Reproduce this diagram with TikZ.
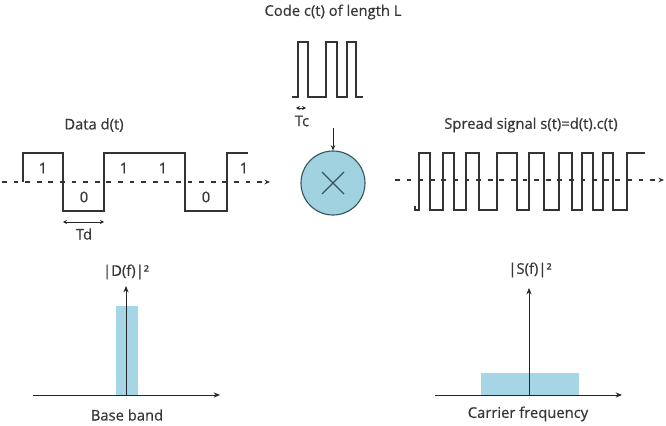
\documentclass[tikz,border=0pt]{standalone}
\usepackage{fontspec}
\setmainfont{Open Sans}
\newfontfamily\lblfont{Open Sans}[FakeBold=0.6]
\usepackage{xcolor}
\usetikzlibrary{arrows.meta,positioning,calc}

\definecolor{specblue}{RGB}{166,214,229}
\definecolor{mixblue}{RGB}{160,210,224}
\definecolor{mixedge}{RGB}{55,85,95}
\definecolor{txtgray}{RGB}{55,55,55}

\begin{document}
\begin{tikzpicture}[
  x=0.025cm, y=-0.025cm,
  font=\lblfont\fontsize{10.5}{12}\selectfont,
  lbl/.style={text=txtgray, inner sep=1pt},
  wave/.style={draw=black!80, line width=1pt, line join=miter},
  timeaxis/.style={draw=black!80, line width=0.8pt, dash pattern=on 1.2mm off 1.7mm, -{Stealth[length=1.4mm, width=1.2mm]}},
  axis/.style={draw=black!85, line width=0.7pt, -{Stealth[length=1.6mm, width=1.3mm]}},
  span/.style={draw=black!85, line width=0.7pt, {Stealth[length=1mm, width=1mm]}-{Stealth[length=1mm, width=1mm]}},
  arrow/.style={draw=black!85, line width=0.7pt, -{Stealth[length=1.3mm, width=1.1mm]}},
  band/.style={fill=specblue, draw=none},
  mixer/.style={circle, draw=mixedge, line width=0.8pt, fill=mixblue, minimum size=1.6cm, inner sep=0pt}
]
\useasboundingbox (0,0) rectangle (666,426);

% titles
\node[lbl] (CodeTitle) at (333,12) {Code c(t) of length L};
\node[lbl] (DataTitle) at (94,125) {Data d(t)};
\node[lbl] (SpreadTitle) at (531,125) {Spread signal s(t)=d(t).c(t)};

% data signal
\coordinate (DataStart) at (2,182);
\coordinate (DataEnd) at (270,182);
\draw[timeaxis] (DataStart) -- (DataEnd);
\draw[wave] (23,182) -- (23,153) -- (63,153) -- (63,211) -- (104,211) -- (104,153)
  -- (185,153) -- (185,211) -- (227,211) -- (227,153) -- (248,153);
\node[lbl] (BitA) at (43,168) {1};
\node[lbl] (BitB) at (84,197) {0};
\node[lbl] (BitC) at (124,168) {1};
\node[lbl] (BitD) at (163,168) {1};
\node[lbl] (BitE) at (206,197) {0};
\node[lbl] (BitF) at (244,168) {1};
\coordinate (TdL) at (63,222);
\coordinate (TdR) at (104,222);
\draw[span] (TdL) -- (TdR);
\node[lbl] (Td) at (84,234) {Td};

% code signal
\draw[wave] (292,97) -- (298,97) -- (298,42) -- (308,42) -- (308,97) -- (326,97) -- (326,42)
  -- (337,42) -- (337,97) -- (347,97) -- (347,42) -- (356,42) -- (356,97) -- (363,97);
\coordinate (TcL) at (296,108);
\coordinate (TcR) at (306,108);
\draw[span] (TcL) -- (TcR);
\node[lbl] (Tc) at (302,121) {Tc};

% mixer
\node[mixer] (Mix) at (333,183) {};
\draw[mixedge, line width=0.8pt] ($(Mix)+(-11,-11)$) -- ($(Mix)+(11,11)$);
\draw[mixedge, line width=0.8pt] ($(Mix)+(-11,11)$) -- ($(Mix)+(11,-11)$);
\coordinate (CodeOut) at (333,128);
\draw[arrow] (CodeOut) -- (Mix);

% spread signal
\coordinate (SpreadStart) at (395,180);
\coordinate (SpreadEnd) at (664,180);
\draw[timeaxis] (SpreadStart) -- (SpreadEnd);
\draw[wave] (415,206) -- (415,210)
  \foreach \a/\b in {419/430,443/454,466/479,497/517,529/544,559/572,582/593,603/613} {
    -- (\a,210) -- (\a,153) -- (\b,153) -- (\b,210) }
  -- (627,210) -- (627,153) -- (645,153);

% base band spectrum
\fill[band] (116,306) rectangle (138,395);
\coordinate (DOrig) at (126,395);
\coordinate (DLeft) at (33,395);
\coordinate (DRight) at (220,395);
\coordinate (DTop) at (126,286);
\draw[axis] (DLeft) -- (DRight);
\draw[axis] (DOrig) -- (DTop);
\node[lbl] (Dlabel) at (126,272) {|D(f)|²};
\node[lbl] (Baseband) at (127,415) {Base band};

% carrier spectrum
\fill[band] (481,373) rectangle (579,395);
\coordinate (SOrig) at (529,395);
\coordinate (SLeft) at (435,395);
\coordinate (SRight) at (622,395);
\coordinate (STop) at (529,288);
\draw[axis] (SLeft) -- (SRight);
\draw[axis] (SOrig) -- (STop);
\node[lbl] (Slabel) at (530,270) {|S(f)|²};
\node[lbl] (Carrier) at (528,414) {Carrier frequency};
\end{tikzpicture}
\end{document}
